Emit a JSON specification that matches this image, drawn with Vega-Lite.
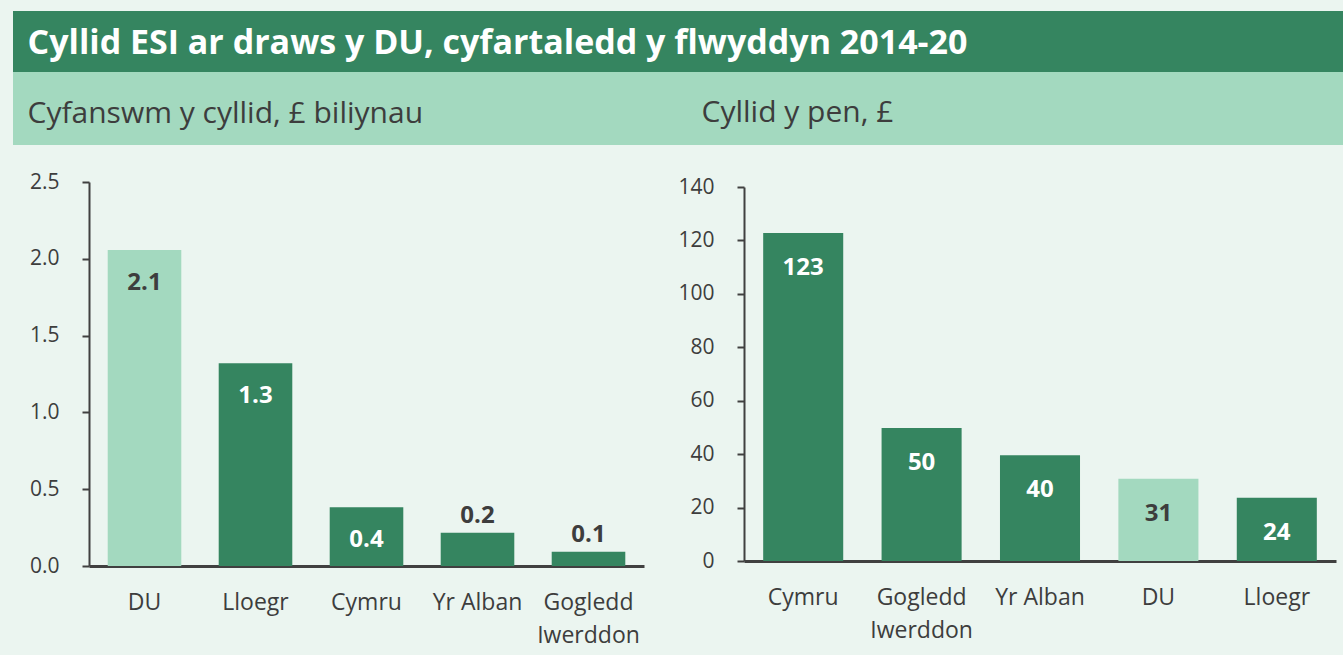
{
  "$schema": "https://vega.github.io/schema/vega-lite/v6.json",
  "background": "#ebf5f0",
  "padding": {"left": 13, "top": 11, "right": 0, "bottom": 15},
  "config": {
    "font": "Open Sans",
    "view": {"stroke": null},
    "axis": {"labelFont": "Open Sans", "labelColor": "#3d3d3d", "domainColor": "#404040", "tickColor": "#404040", "grid": false, "title": null},
    "axisX": {"labelFontSize": 23, "labelAngle": 0, "ticks": false, "tickSize": 0, "labelPadding": 25, "domainWidth": 3, "labelLineHeight": 33},
    "axisY": {"labelFontSize": 21, "tickSize": 7, "tickWidth": 2, "domainWidth": 2, "labelPadding": 23}
  },
  "datasets": {
    "total": [
      {"region": "DU", "value": 2.057},
      {"region": "Lloegr", "value": 1.32},
      {"region": "Cymru", "value": 0.382},
      {"region": "Yr Alban", "value": 0.217},
      {"region": "Gogledd Iwerddon", "value": 0.093}
    ],
    "perhead": [
      {"region": "Cymru", "value": 122.8},
      {"region": "Gogledd Iwerddon", "value": 49.8},
      {"region": "Yr Alban", "value": 39.6},
      {"region": "DU", "value": 30.8},
      {"region": "Lloegr", "value": 23.7}
    ],
    "blank": [{"k": 0}]
  },
  "columns": 1,
  "align": "none",
  "spacing": 26,
  "concat": [
    {
      "columns": 1,
      "align": "none",
      "spacing": 0,
      "concat": [
        {
          "width": 1330,
          "height": 61,
          "view": {"fill": "#358560", "stroke": null},
          "data": {"name": "blank"},
          "mark": {"type": "text", "opacity": 0},
          "encoding": {
            "text": {"value": " "},
            "x": {"field": "k", "type": "quantitative", "axis": {"orient": "top", "domain": false, "ticks": false, "labels": false, "grid": false, "title": "Cyllid ESI ar draws y DU, cyfartaledd y flwyddyn 2014-20", "titleX": 14, "titleY": 42, "titleAlign": "left", "titleAnchor": "start", "titleBaseline": "alphabetic", "titleColor": "#ffffff", "titleFont": "Open Sans", "titleFontSize": 34, "titleFontWeight": "bold", "titlePadding": 0}}
          }
        },
        {
          "spacing": 0,
          "hconcat": [
            {
              "width": 674,
              "height": 73,
              "view": {"fill": "#a3d9bf", "stroke": null},
              "data": {"name": "blank"},
              "mark": {"type": "text", "opacity": 0},
              "encoding": {
                "text": {"value": " "},
                "x": {"field": "k", "type": "quantitative", "axis": {"orient": "top", "domain": false, "ticks": false, "labels": false, "grid": false, "title": "Cyfanswm y cyllid, £ biliynau", "titleX": 14, "titleY": 50, "titleAlign": "left", "titleAnchor": "start", "titleBaseline": "alphabetic", "titleColor": "#3d3d3d", "titleFont": "Open Sans", "titleFontSize": 30, "titleFontWeight": "normal", "titlePadding": 0}}
              }
            },
            {
              "width": 656,
              "height": 73,
              "view": {"fill": "#a3d9bf", "stroke": null},
              "data": {"name": "blank"},
              "mark": {"type": "text", "opacity": 0},
              "encoding": {
                "text": {"value": " "},
                "x": {"field": "k", "type": "quantitative", "axis": {"orient": "top", "domain": false, "ticks": false, "labels": false, "grid": false, "title": "Cyllid y pen, £", "titleX": 14, "titleY": 49, "titleAlign": "left", "titleAnchor": "start", "titleBaseline": "alphabetic", "titleColor": "#3d3d3d", "titleFont": "Open Sans", "titleFontSize": 30, "titleFontWeight": "normal", "titlePadding": 0}}
              }
            }
          ]
        }
      ]
    },
    {
      "columns": 2,
      "align": "none",
      "spacing": 29,
      "resolve": {"scale": {"x": "independent", "y": "independent", "color": "independent"}},
      "concat": [
        {
          "width": 631,
          "height": 384,
          "data": {"name": "total"},
          "encoding": {
            "x": {"field": "region", "type": "nominal", "sort": null, "scale": {"range": [76, 631], "paddingInner": 0.337, "paddingOuter": 0.1685}, "axis": {"labelExpr": "datum.label == 'Gogledd Iwerddon' ? ['Gogledd', 'Iwerddon'] : datum.label"}},
            "y": {"field": "value", "type": "quantitative", "scale": {"domain": [0, 2.5], "nice": false}, "axis": {"values": [0, 0.5, 1, 1.5, 2, 2.5], "format": ".1f", "offset": -76}}
          },
          "layer": [
            {"mark": {"type": "bar"}, "encoding": {"color": {"condition": {"test": "datum.region === 'DU'", "value": "#a3d9bf"}, "value": "#358560"}}},
            {"transform": [{"filter": "datum.value >= 0.3"}], "mark": {"type": "text", "baseline": "middle", "dy": 33, "fontSize": 24, "fontWeight": "bold", "font": "Open Sans"}, "encoding": {"text": {"field": "value", "type": "quantitative", "format": ".1f"}, "color": {"condition": {"test": "datum.region === 'DU'", "value": "#3d3d3d"}, "value": "#ffffff"}}},
            {"transform": [{"filter": "datum.value < 0.3"}], "mark": {"type": "text", "baseline": "middle", "dy": -17, "fontSize": 24, "fontWeight": "bold", "font": "Open Sans", "color": "#3d3d3d"}, "encoding": {"text": {"field": "value", "type": "quantitative", "format": ".1f"}}}
          ]
        },
        {
          "width": 592,
          "height": 379,
          "data": {"name": "perhead"},
          "encoding": {
            "x": {"field": "region", "type": "nominal", "sort": null, "scale": {"paddingInner": 0.324, "paddingOuter": 0.162}, "axis": {"labelExpr": "datum.label == 'Gogledd Iwerddon' ? ['Gogledd', 'Iwerddon'] : datum.label"}},
            "y": {"field": "value", "type": "quantitative", "scale": {"domain": [0, 140], "nice": false, "range": [379, 5]}, "axis": {"values": [0, 20, 40, 60, 80, 100, 120, 140], "format": "d", "minExtent": 71}}
          },
          "layer": [
            {"mark": {"type": "bar"}, "encoding": {"color": {"condition": {"test": "datum.region === 'DU'", "value": "#a3d9bf"}, "value": "#358560"}}},
            {"mark": {"type": "text", "baseline": "middle", "dy": 35, "fontSize": 24, "fontWeight": "bold", "font": "Open Sans"}, "encoding": {"text": {"field": "value", "type": "quantitative", "format": ".0f"}, "color": {"condition": {"test": "datum.region === 'DU'", "value": "#3d3d3d"}, "value": "#ffffff"}}}
          ]
        }
      ]
    }
  ]
}
